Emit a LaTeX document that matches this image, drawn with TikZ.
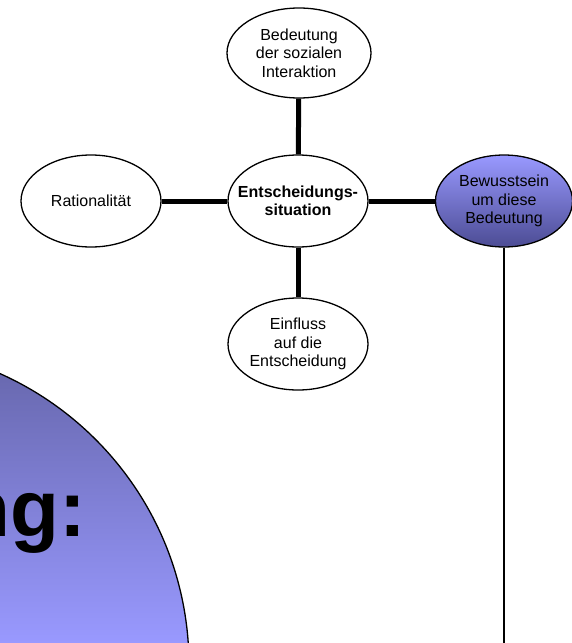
\documentclass[tikz,border=0pt]{standalone}
\usepackage{fontspec}
\setmainfont{Liberation Sans}
\usetikzlibrary{shapes.geometric}
\definecolor{lavender}{HTML}{9999FF}
\definecolor{dusk}{HTML}{6464A8}
\definecolor{deepblue}{HTML}{4C4C94}
\begin{document}
\begin{tikzpicture}[x=1pt,y=-1pt,
  bubble/.style={ellipse, draw, line width=1.3pt, minimum width=140pt,
    minimum height=92pt, inner sep=0pt, fill=white},
  caption/.style={align=center, inner sep=0pt,
    font=\fontsize{16}{18.5}\selectfont},
  strong/.style={caption, font=\fontsize{16}{18.5}\selectfont\bfseries},
  spoke/.style={line width=5pt},
  lead/.style={line width=2pt}]
\useasboundingbox (0,0) rectangle (572,643);

% large shaded disc in the lower left corner
\begin{scope}
  \clip (0,0) rectangle (572,643);
  \begin{scope}
    \clip (-130,665) circle (319);
    \shade[top color=dusk, bottom color=lavender] (-200,346) rectangle (200,643);
  \end{scope}
  \draw[line width=1.3pt] (-130,665) circle (319);
  \node[anchor=base east, inner sep=0pt, font=\fontsize{80}{82}\selectfont\bfseries]
    (heading) at (86,536) {ng:};
\end{scope}

% concept bubbles (fixed size, text laid on top)
\node[bubble, minimum width=144pt, minimum height=90pt,
  label={[caption]center:{Bedeutung\\der sozialen\\Interaktion}}] (meaning) at (299,53) {};
\node[bubble, label={[strong]center:{Entscheidungs-\\situation}}] (situation) at (298,201) {};
\node[bubble, label={[caption]center:{Rationalität}}] (rationality) at (91,201) {};
\node[bubble, label={[caption]center:{Einfluss\\auf die\\Entscheidung}}] (influence) at (298,344) {};
\node[bubble, minimum width=137pt, top color=lavender, bottom color=deepblue,
  label={[caption]center:{Bewusstsein\\um diese\\Bedeutung}}] (awareness) at (504,201) {};

% connectors
\draw[spoke] (meaning) -- (situation);
\draw[spoke] (situation) -- (influence);
\draw[spoke] (rationality) -- (situation);
\draw[spoke] (situation) -- (awareness);
\coordinate (foot) at (504,645);
\draw[lead] (awareness) -- (foot);
\end{tikzpicture}
\end{document}
